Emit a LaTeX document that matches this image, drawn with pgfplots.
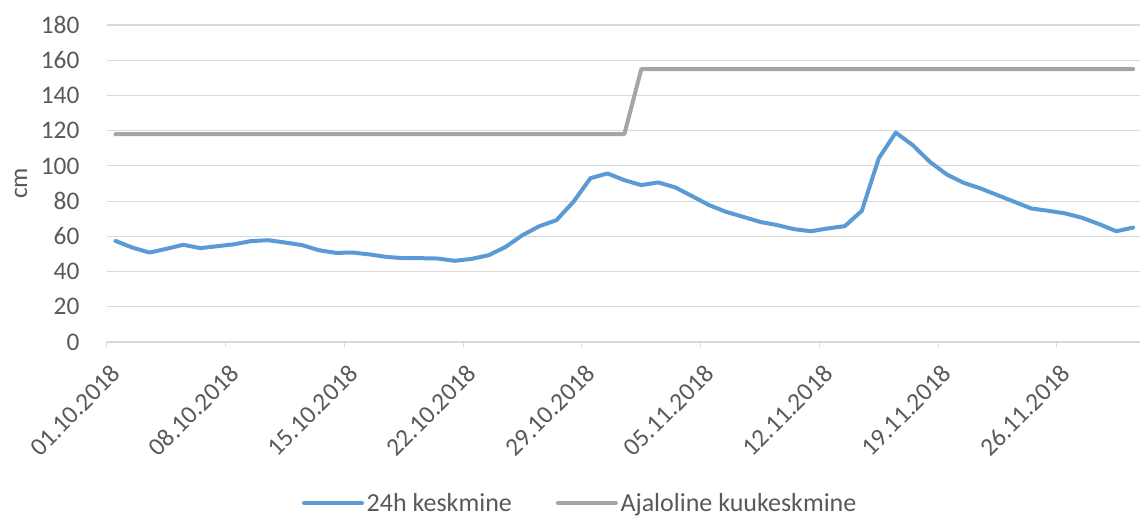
\documentclass[border=0pt]{standalone}
\usepackage{fontspec}
\setmainfont{Carlito}
\usepackage{pgfplots}
\pgfplotsset{compat=1.18}

\definecolor{dayblue}{HTML}{5B9BD5}
\definecolor{histgray}{HTML}{A5A5A5}
\definecolor{gridgray}{HTML}{D9D9D9}
\definecolor{labelgray}{HTML}{595959}

\begin{document}
\begin{tikzpicture}
\begin{axis}[
  name=ax, scale only axis,
  width=774.75pt, height=237.75pt,
  xmin=0, xmax=60.9, ymin=0, ymax=180,
  xtick={0,7,...,56},
  xticklabels={01.10.2018,08.10.2018,15.10.2018,22.10.2018,29.10.2018,05.11.2018,12.11.2018,19.11.2018,26.11.2018},
  ytick={0,20,...,180},
  xtick pos=bottom, ytick pos=left,
  tick align=outside,
  major tick length=4pt,
  xtick style={draw=gridgray, line width=0.75pt},
  ytick style={draw=none},
  axis line style={draw=none},
  ymajorgrids,
  grid style={draw=gridgray, line width=0.9pt},
  tick label style={font=\fontsize{19}{21}\selectfont, text=labelgray},
  /pgf/number format/assume math mode=true,
  yticklabel style={anchor=east, inner sep=0pt, xshift=-16.5pt},
  xticklabel style={xshift=6.7pt, yshift=-16.6pt, rotate=45, anchor=east, inner sep=0pt},
  ylabel={cm},
  every axis y label/.style={at={(axis description cs:-0.0833,0.5)}, rotate=90, anchor=center,
    font=\fontsize{19}{21}\selectfont, text=labelgray},
  legend columns=2,
  legend style={at={(axis description cs:0.4584,-0.508)}, anchor=center, draw=none, fill=none,
    inner sep=0pt, font=\fontsize{19.5}{22}\selectfont, text=labelgray,
    /tikz/every even column/.append style={column sep=31pt}},
  legend image code/.code={\draw[#1] (0pt,0pt) -- (43.5pt,0pt);},
]

% 24h average water level, one value per day (plotted mid-day)
\addplot[dayblue, line width=3pt, line join=round, line cap=round] coordinates {
(0.5,57.4) (1.5,53.6) (2.5,50.8) (3.5,52.9) (4.5,55.2) (5.5,53.3) (6.5,54.4)
(7.5,55.5) (8.5,57.3) (9.5,57.8) (10.5,56.5) (11.5,55.0) (12.5,52.1) (13.5,50.6)
(14.5,50.8) (15.5,49.7) (16.5,48.3) (17.5,47.6) (18.5,47.6) (19.5,47.4) (20.5,46.1)
(21.5,47.2) (22.5,49.3) (23.5,54.0) (24.5,60.7) (25.5,65.8) (26.5,69.2) (27.5,79.6)
(28.5,93.0) (29.5,95.7) (30.5,91.9) (31.5,89.1) (32.5,90.6) (33.5,87.8) (34.5,82.8)
(35.5,77.7) (36.5,73.9) (37.5,71.1) (38.5,68.2) (39.5,66.4) (40.5,64.1) (41.5,62.9)
(42.5,64.5) (43.5,65.8) (44.5,74.5) (45.5,104.3) (46.5,118.9) (47.5,111.8) (48.5,102.4)
(49.5,95.2) (50.5,90.4) (51.5,87.2) (52.5,83.4) (53.5,79.6) (54.5,75.8) (55.5,74.5)
(56.5,73.0) (57.5,70.5) (58.5,66.9) (59.5,62.9) (60.5,65.0)
};
\addlegendentry{24h keskmine}

% historical monthly mean: October and November
\addplot[histgray, line width=3pt, line join=round, line cap=round] coordinates {
(0.5,118) (30.5,118) (31.5,155) (60.5,155)
};
\addlegendentry{Ajaloline kuukeskmine}
\end{axis}
\pgfresetboundingbox
\path[use as bounding box] ([shift={(-80.25pt,-132.75pt)}]ax.south west) rectangle ([shift={(0pt,18.75pt)}]ax.north east);
\end{tikzpicture}
\end{document}
